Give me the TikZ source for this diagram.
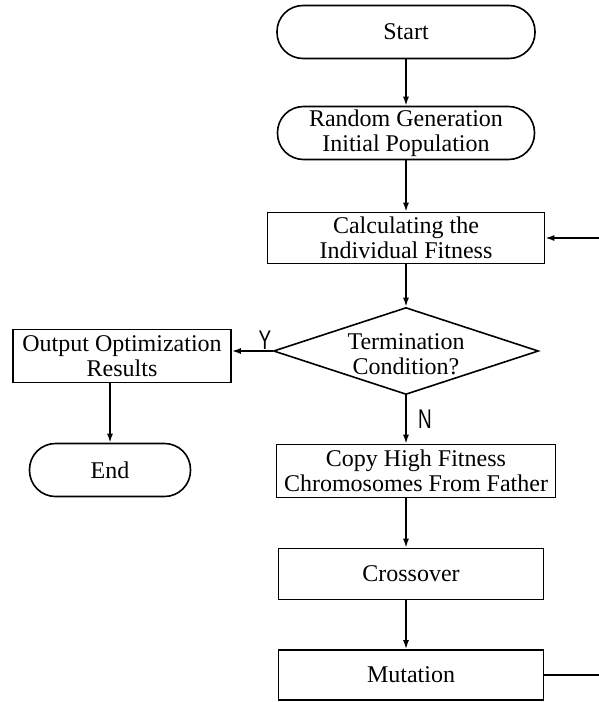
\documentclass[tikz,border=0pt]{standalone}
\usepackage{fontspec}
\setmainfont{Liberation Serif}
\newfontfamily\ynfont[FakeStretch=0.7]{Liberation Sans}
\usetikzlibrary{shapes.geometric, arrows.meta}

\begin{document}
\begin{tikzpicture}[x=1pt,y=-1pt,line width=1.6pt,>={Latex[length=9pt,width=6pt]},
    every node/.style={font=\fontsize{24}{25}\selectfont, align=center, inner sep=0pt},
    term/.style={draw, rounded corners=26pt, minimum height=53pt},
    proc/.style={draw, rectangle, minimum height=52pt},
    cond/.style={draw, diamond, minimum width=265pt, minimum height=87pt},
    yn/.style={font=\ynfont\fontsize{27}{27}\selectfont}]
    \useasboundingbox (0,0) rectangle (599,702);

    % main column
    \node[term, minimum width=258pt] (start) at (406,32) {Start};
    \node[term, minimum width=257pt] (randgen) at (406,133) {Random Generation\\Initial Population};
    \node[proc, minimum width=277pt, minimum height=51pt] (calcfit) at (406,238) {Calculating the\\Individual Fitness};
    \node[cond] (termcond) at (406,351) {};
    \node (condtext) at (406,354) {Termination\\Condition?};
    \node[proc, minimum width=279pt, minimum height=53pt] (copyhigh) at (416,471) {Copy High Fitness\\Chromosomes From Father};
    \node[proc, minimum width=265pt, minimum height=51pt] (crossover) at (411,574) {Crossover};
    \node[proc, minimum width=265pt, minimum height=50pt] (mutation) at (411,675) {Mutation};

    % left branch
    \node[proc, minimum width=218pt, minimum height=53pt] (output) at (122,356) {Output Optimization\\Results};
    \node[term, minimum width=161pt] (finish) at (110,470) {End};

    % labels
    \node[yn] (ylabel) at (265,340) {Y};
    \node[yn] (nlabel) at (425,419) {N};

    % connectors
    \draw[->] (start) -- (randgen);
    \draw[->] (randgen) -- (calcfit);
    \draw[->] (calcfit) -- (termcond);
    \draw[->] (termcond.west) -- (termcond.west -| output.east);
    \draw[->] (termcond.south) -- (termcond.south |- copyhigh.north);
    \draw[->] (output.south -| finish.north) -- (finish.north);
    \draw[->] (copyhigh.south -| termcond.south) -- (crossover.north -| termcond.south);
    \draw[->] (crossover.south -| termcond.south) -- (mutation.north -| termcond.south);

    % loop back, cut off at the right edge
    \coordinate (loopa) at (605,675);
    \coordinate (loopb) at (605,238);
    \draw[->] (mutation.east) -- (loopa) -- (loopb) -- (calcfit.east);
\end{tikzpicture}
\end{document}
